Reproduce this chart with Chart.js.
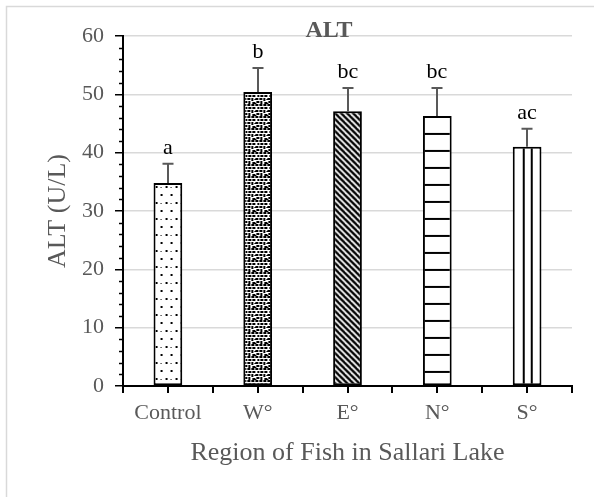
<!DOCTYPE html>
<html>
<head>
<meta charset="utf-8">
<script src="https://cdn.jsdelivr.net/npm/chart.js@4/dist/chart.umd.min.js"></script>
<style>
  html, body { margin: 0; padding: 0; background: #fff; }
  #wrap { width: 594px; height: 497px; }
</style>
</head>
<body>
<div id="wrap"><canvas id="altChart" width="594" height="497"></canvas></div>
<script>
// data
const categories = ['Control', 'W°', 'E°', 'N°', 'S°'];
const altMeans = [34.8, 50.4, 47.1, 46.3, 41.0];
const altErrors = [3.3, 4.1, 4.0, 4.8, 3.1];
const groupLetters = ['a', 'b', 'bc', 'bc', 'ac'];
const yMin = 0, yMax = 60, yStep = 10, yMinorStep = 2;

const serif = '"Liberation Serif", "Times New Roman", serif';
const grey = '#595959';

function makeTile(w, h, draw) {
  const c = document.createElement('canvas');
  c.width = w; c.height = h;
  const g = c.getContext('2d');
  g.fillStyle = '#fff';
  g.fillRect(0, 0, w, h);
  g.fillStyle = '#000';
  g.strokeStyle = '#000';
  draw(g);
  return g.createPattern(c, 'repeat');
}

// Control: sparse dots
const dotsPat = makeTile(10, 16, g => {
  g.fillRect(2, 3, 2, 2);
  g.fillRect(7, 11, 2, 2);
  g.fillRect(7, 4, 1, 1);
});
// W°: confetti blobs
const confettiPat = makeTile(12, 12, g => {
  [[0, 0, 3, 2], [4, 0, 3, 2], [8, 0, 3, 2], [2, 3, 2, 2], [5, 3, 3, 2], [9, 3, 3, 2],
   [0, 6, 3, 2], [4, 6, 3, 2], [8, 6, 2, 3], [1, 9, 3, 2], [5, 9, 2, 3], [9, 10, 3, 2],
   [11, 7, 1, 1], [0, 11, 1, 1]].forEach(r => g.fillRect(r[0], r[1], r[2], r[3]));
});
// E°: downward diagonal stripes
const diagPat = makeTile(6, 6, g => {
  g.lineWidth = 2.4;
  for (let k = -12; k <= 12; k += 6) {
    g.beginPath();
    g.moveTo(k - 2, -2);
    g.lineTo(k + 8, 8);
    g.stroke();
  }
});
// N°: horizontal lines
const hLinePat = makeTile(4, 17, g => {
  g.fillRect(0, 0, 4, 2);
});
// S°: two vertical lines inside the bar
const vLinePat = makeTile(20, 4, g => {
  g.fillRect(10, 0, 2, 4);
  g.fillRect(18, 0, 2, 4);
});
const patterns = [dotsPat, confettiPat, diagPat, hLinePat, vLinePat];

const extras = {
  id: 'extras',
  beforeDraw(chart) {
    const ctx = chart.ctx;
    ctx.save();
    ctx.fillStyle = '#fff';
    ctx.fillRect(0, 0, chart.width, chart.height);
    ctx.strokeStyle = '#d9d9d9';
    ctx.lineWidth = 1.5;
    ctx.strokeRect(6.5, 6.5, 700, 600);
    ctx.restore();
  },
  beforeDatasetsDraw(chart) {
    const meta = chart.getDatasetMeta(0);
    meta.data.forEach((bar, i) => {
      const left = bar.x - bar.width / 2;
      patterns[i].setTransform(new DOMMatrix([1, 0, 0, 1, left, bar.y]));
    });
  },
  afterDraw(chart) {
    const ctx = chart.ctx;
    const ys = chart.scales.y;
    const area = chart.chartArea;
    ctx.save();
    // y minor ticks
    ctx.strokeStyle = '#000';
    ctx.lineWidth = 1.5;
    for (let v = yMin; v <= yMax; v += yMinorStep) {
      if (v % yStep === 0) continue;
      const py = Math.round(ys.getPixelForValue(v)) + 0.5;
      ctx.beginPath();
      ctx.moveTo(area.left - 4, py);
      ctx.lineTo(area.left, py);
      ctx.stroke();
    }
    // x ticks at centres and boundaries
    const step = (area.right - area.left) / categories.length;
    ctx.lineWidth = 2;
    for (let i = 0; i <= categories.length * 2; i++) {
      const px = Math.round(area.left + i * step / 2);
      ctx.beginPath();
      ctx.moveTo(px, area.bottom);
      ctx.lineTo(px, area.bottom + 7);
      ctx.stroke();
    }
    // error bars and letters
    const meta = chart.getDatasetMeta(0);
    meta.data.forEach((bar, i) => {
      const top = ys.getPixelForValue(altMeans[i] + altErrors[i]);
      const x = Math.round(bar.x);
      ctx.strokeStyle = grey;
      ctx.lineWidth = 2;
      ctx.beginPath();
      ctx.moveTo(x, bar.y);
      ctx.lineTo(x, top);
      ctx.moveTo(x - 5.5, top);
      ctx.lineTo(x + 5.5, top);
      ctx.stroke();
      ctx.fillStyle = '#000';
      ctx.font = '22px ' + serif;
      ctx.textAlign = 'center';
      ctx.textBaseline = 'alphabetic';
      ctx.fillText(groupLetters[i], x, top - 10);
    });
    // chart title
    ctx.fillStyle = grey;
    ctx.font = 'bold 24px ' + serif;
    ctx.textAlign = 'center';
    ctx.textBaseline = 'middle';
    ctx.fillText('ALT', 329, 31);
    ctx.restore();
  }
};

new Chart(document.getElementById('altChart'), {
  type: 'bar',
  data: {
    labels: categories,
    datasets: [{
      label: 'ALT',
      data: altMeans,
      backgroundColor: patterns,
      borderColor: '#000',
      borderWidth: 2,
      borderSkipped: false,
      barPercentage: 0.32,
      categoryPercentage: 1
    }]
  },
  options: {
    responsive: false,
    animation: false,
    layout: { padding: { left: 0, top: 36, right: 22, bottom: 0 } },
    plugins: {
      legend: { display: false },
      tooltip: { enabled: false },
      title: { display: false }
    },
    scales: {
      x: {
        grid: { display: false, drawTicks: false },
        border: { display: true, color: '#000', width: 2 },
        ticks: { color: grey, font: { family: serif, size: 22 }, padding: 14 },
        title: {
          display: true,
          text: 'Region of Fish in Sallari Lake',
          color: grey,
          font: { family: serif, size: 26 },
          padding: { top: 0, bottom: 28 }
        },
        afterFit: s => { s.height = 111; }
      },
      y: {
        min: yMin,
        max: yMax,
        ticks: { stepSize: yStep, color: grey, font: { family: serif, size: 22 }, padding: 11 },
        grid: { color: '#d9d9d9', lineWidth: 1.5, tickColor: '#000', tickLength: 8 },
        border: { display: true, color: '#000', width: 2 },
        title: {
          display: true,
          text: 'ALT (U/L)',
          color: grey,
          font: { family: serif, size: 26 },
          padding: { top: 43, bottom: 0 }
        },
        afterFit: s => { s.width = 123; }
      }
    }
  },
  plugins: [extras]
});
</script>
</body>
</html>
